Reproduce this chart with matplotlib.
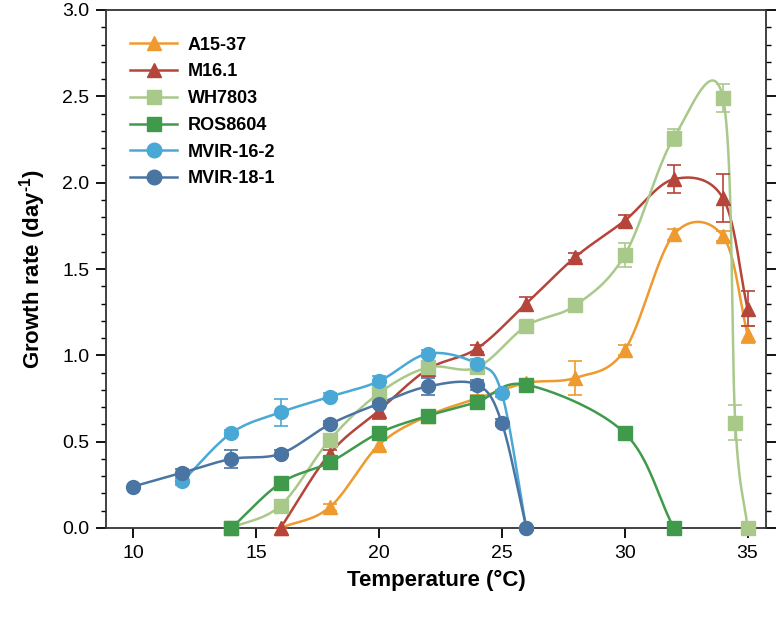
import numpy as np
import matplotlib
matplotlib.use("Agg")
import matplotlib.pyplot as plt
from matplotlib.ticker import MultipleLocator, FormatStrFormatter

plt.rcParams['font.family'] = ['Liberation Sans', 'DejaVu Sans']
plt.rcParams['mathtext.fontset'] = 'custom'
plt.rcParams['mathtext.rm'] = 'Liberation Sans'
plt.rcParams['mathtext.bf'] = 'Liberation Sans:bold'

# ---- data ----
a15_x = [16, 18, 20, 22, 24, 26, 28, 30, 32, 34, 35]
a15_y = [0.0, 0.12, 0.48, 0.65, 0.75, 0.84, 0.87, 1.03, 1.70, 1.69, 1.12]
a15_e = [0.0, 0.02, 0.03, 0.02, 0.02, 0.02, 0.10, 0.03, 0.03, 0.03, 0.05]

m16_x = [16, 18, 20, 22, 24, 26, 28, 30, 32, 34, 35]
m16_y = [0.0, 0.43, 0.68, 0.92, 1.04, 1.30, 1.57, 1.78, 2.02, 1.91, 1.27]
m16_e = [0.0, 0.02, 0.05, 0.02, 0.02, 0.04, 0.02, 0.03, 0.08, 0.14, 0.10]

wh_x = [14, 16, 18, 20, 22, 24, 26, 28, 30, 32, 34, 34.5, 35]
wh_y = [0.0, 0.13, 0.51, 0.78, 0.93, 0.93, 1.17, 1.29, 1.58, 2.26, 2.49, 0.61, 0.0]
wh_e = [0.0, 0.02, 0.02, 0.03, 0.03, 0.02, 0.02, 0.02, 0.07, 0.05, 0.08, 0.10, 0.0]

ros_x = [14, 16, 18, 20, 22, 24, 26, 30, 32]
ros_y = [0.0, 0.26, 0.38, 0.55, 0.65, 0.73, 0.83, 0.55, 0.0]
ros_e = [0.0, 0.02, 0.02, 0.02, 0.02, 0.02, 0.02, 0.02, 0.0]

mv16_x = [12, 14, 16, 18, 20, 22, 24, 25, 26]
mv16_y = [0.27, 0.55, 0.67, 0.76, 0.85, 1.01, 0.95, 0.78, 0.0]
mv16_e = [0.02, 0.02, 0.08, 0.02, 0.03, 0.02, 0.03, 0.02, 0.0]

mv18_x = [10, 12, 14, 16, 18, 20, 22, 24, 25, 26]
mv18_y = [0.24, 0.32, 0.40, 0.43, 0.60, 0.72, 0.82, 0.83, 0.61, 0.0]
mv18_e = [0.0, 0.02, 0.05, 0.02, 0.02, 0.02, 0.05, 0.03, 0.02, 0.0]

labels = ['A15-37', 'M16.1', 'WH7803', 'ROS8604', 'MVIR-16-2', 'MVIR-18-1']


def smooth_curve(x, y, yscale=7.0, n=40):
    """Parametric Catmull-Rom curve through the data points (drawing only)."""
    P = np.column_stack([np.asarray(x, float), np.asarray(y, float) * yscale])
    ext = np.vstack([2 * P[0] - P[1], P, 2 * P[-1] - P[-2]])
    t = np.linspace(0, 1, n)[:, None]
    h00 = 2 * t**3 - 3 * t**2 + 1
    h10 = t**3 - 2 * t**2 + t
    h01 = -2 * t**3 + 3 * t**2
    h11 = t**3 - t**2
    pts = []
    for i in range(1, len(ext) - 2):
        p0, p1 = ext[i], ext[i + 1]
        m0 = (ext[i + 1] - ext[i - 1]) / 2
        m1 = (ext[i + 2] - ext[i]) / 2
        seg = h00 * p0 + h10 * m0 + h01 * p1 + h11 * m1
        pts.append(seg if i == 1 else seg[1:])
    pts = np.vstack(pts)
    return pts[:, 0], pts[:, 1] / yscale


fig = plt.figure(figsize=(7.83, 6.22), dpi=100)
ax = fig.add_axes([106 / 783, 1 - 528 / 622, (766 - 106) / 783, (528 - 10) / 622])

series = [
    (a15_x, a15_y, a15_e, '#EE9A2E', '^'),
    (m16_x, m16_y, m16_e, '#B5443A', '^'),
    (wh_x, wh_y, wh_e, '#A9C98B', 's'),
    (ros_x, ros_y, ros_e, '#3F9A4C', 's'),
    (mv16_x, mv16_y, mv16_e, '#4AA8D6', 'o'),
    (mv18_x, mv18_y, mv18_e, '#4A74A2', 'o'),
]

handles = []
for (x, y, e, col, mk), lab in zip(series, labels):
    xs, ys = smooth_curve(x, y)
    ax.plot(xs, ys, color=col, lw=1.8, zorder=2, clip_on=False)
    ax.errorbar(x, y, yerr=e, fmt='none', ecolor=col, elinewidth=1.2,
                capsize=5, capthick=1.2, zorder=3, clip_on=False)
    ax.plot(x, y, ls='none', marker=mk, ms=10, color=col, mec=col,
            zorder=4, clip_on=False)
    h, = ax.plot([], [], color=col, lw=1.8, marker=mk, ms=10.5)
    handles.append(h)

ax.set_xlim(8.9, 35.75)
ax.set_ylim(0, 3.0)
ax.xaxis.set_major_locator(MultipleLocator(5))
ax.yaxis.set_major_locator(MultipleLocator(0.5))
ax.yaxis.set_minor_locator(MultipleLocator(0.1))
ax.yaxis.set_major_formatter(FormatStrFormatter('%.1f'))
ax.tick_params(axis='both', which='major', direction='out', length=7, width=1.3,
               labelsize=14, pad=5)
ax.tick_params(axis='y', which='minor', direction='out', length=3.5, width=1)
ax.tick_params(axis='y', which='both', right=True, labelright=False)
for sp in ax.spines.values():
    sp.set_linewidth(1.3)
    sp.set_color('#333333')

ax.set_xlabel('Temperature (°C)', fontsize=16, fontweight='bold', labelpad=6)
ax.set_ylabel('Growth rate (day$^{\\mathbf{\u2010}\\mathbf{1}}$)', fontsize=16,
              fontweight='bold', labelpad=10)

leg = ax.legend(handles, labels, loc='upper left', bbox_to_anchor=(0.012, 0.98),
                frameon=False, prop={'weight': 'bold', 'size': 13},
                handlelength=2.6, handletextpad=0.6, labelspacing=0.54)

fig.savefig('out.png', dpi=100)
